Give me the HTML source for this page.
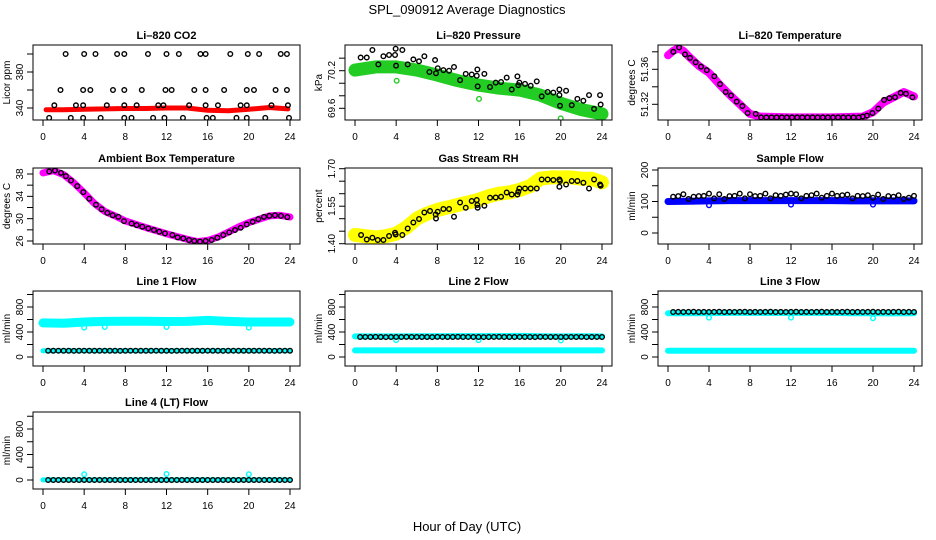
<!DOCTYPE html>
<html><head><meta charset="utf-8"><style>
html,body{margin:0;padding:0;background:#fff}
svg{display:block;font-family:"Liberation Sans",sans-serif}
</style></head><body>
<svg id="chart" width="936" height="540" viewBox="0 0 936 540" xmlns="http://www.w3.org/2000/svg">
<rect width="936" height="540" fill="#fff"/>
<text x="467" y="14" font-size="13" text-anchor="middle">SPL_090912  Average Diagnostics</text>
<text x="467" y="531" font-size="13" text-anchor="middle">Hour of Day (UTC)</text>
</svg>
<script>
// ---------- DATA ----------
const xTicks = [0,4,8,12,16,20,24];
// CO2
const co2Hours = [2.2,4.0,5.1,7.2,7.9,10.2,12.0,13.2,15.3,15.8,18.2,19.9,21.0,23.1,23.7,
 1.7,3.9,4.6,6.8,7.9,9.6,11.9,12.5,14.7,15.8,17.6,19.8,20.5,22.6,23.7,
 1.1,3.2,3.9,6.2,7.9,9.1,11.2,11.7,14.2,15.8,17.0,19.2,19.8,22.2,23.8,
 0.6,2.7,3.9,5.6,7.9,8.6,10.7,11.8,13.6,15.9,16.5,18.8,19.8,21.6,23.9];
const co2Vals = [400,400,400,400,400,400,400,400,400,400,400,400,400,400,400,
 360,360,360,360,360,360,360,360,360,360,360,360,360,360,360,
 343,343,343,343,343,343,343,343,343,343,343,343,343,343,343,
 329,329,329,329,329,329,329,329,329,329,329,329,329,329,329];
const co2BandHours = [0.3,2,4,6,8,10,12,14,16,18,20,22,23.8];
const co2BandVals = [338,338,338.5,339,339.5,339.5,340,340,337.5,337,338.5,340.5,339];
// Pressure
const presHours = [0.55,1.14,1.69,2.27,2.76,3.31,3.89,3.95,3.99,4.60,5.12,5.67,6.22,6.74,7.23,7.78,7.87,8.04,8.59,9.14,9.62,10.21,10.76,11.34,11.83,11.89,11.92,12.57,13.12,13.67,14.19,14.74,15.23,15.78,15.87,15.97,16.52,17.07,17.66,18.14,18.72,19.27,19.86,19.86,19.92,20.51,21.06,21.61,22.19,22.74,23.23,23.81,23.87];
const presVals = [70.41,70.41,70.53,70.30,70.43,70.45,70.45,70.55,70.28,70.53,70.30,70.38,70.35,70.43,70.18,70.37,70.16,70.24,70.21,70.20,70.26,70.05,70.15,70.14,70.12,70.22,69.95,70.15,69.94,70.01,70.02,70.09,69.90,70.11,69.97,70.01,69.99,69.96,70.03,69.79,69.86,69.85,69.90,69.81,69.64,69.88,69.65,69.75,69.72,69.81,69.59,69.81,69.66];
const presBandHours = [0,2,4,6,8,10,12,14,16,18,20,22,24];
const presBandVals = [70.21,70.26,70.26,70.21,70.13,70.04,69.97,69.92,69.89,69.81,69.68,69.58,69.51];
const presOutHours = [4.05,12.05,19.99];
const presOutVals = [70.04,69.75,69.44];
// Li-820 temperature
const tempHours = [0.52,1.08,1.66,2.15,2.70,3.22,3.78,4.52,5.08,5.63,6.15,6.70,7.25,7.77,8.56,9.08,9.6,10.1,10.6,11.1,11.6,12.1,12.6,13.1,13.6,14.1,14.6,15.1,15.6,16.1,16.6,17.1,17.6,18.1,18.6,19.0,19.4,19.94,20.52,21.08,21.6,22.15,22.7,23.22,23.84];
const tempVals = [51.380,51.385,51.377,51.373,51.368,51.363,51.359,51.352,51.343,51.334,51.330,51.323,51.318,51.310,51.309,51.305,51.305,51.305,51.305,51.305,51.305,51.305,51.305,51.305,51.305,51.305,51.305,51.305,51.305,51.305,51.305,51.305,51.305,51.305,51.305,51.306,51.307,51.310,51.315,51.325,51.327,51.328,51.333,51.332,51.328];
const tempBandHours = [0,0.5,1,1.5,2,3,4,5,6,7,8,9,12,16,19,20,21,22,23,24];
const tempBandVals = [51.376,51.381,51.384,51.381,51.375,51.364,51.356,51.343,51.331,51.320,51.309,51.306,51.305,51.305,51.306,51.311,51.322,51.328,51.334,51.329];
// Ambient box temperature
const ambHours = [0.61,1.16,1.75,2.23,2.72,3.33,3.92,4.50,5.15,5.70,6.25,6.77,7.32,7.87,8.61,9.10,9.65,10.23,10.78,11.30,11.85,12.57,13.08,13.63,14.19,14.70,15.25,15.80,16.39,16.94,17.52,18.10,18.66,19.21,19.79,20.37,20.92,21.47,21.99,22.54,23.12,23.74];
const ambVals = [38.44,38.62,38.21,37.62,36.84,35.83,34.76,33.57,32.50,31.69,31.03,30.62,30.33,29.56,29.14,28.85,28.55,28.26,27.96,27.66,27.36,27.07,26.65,26.47,26.18,26.00,25.89,26.00,26.18,26.59,27.07,27.54,27.96,28.38,28.97,29.44,29.92,30.33,30.50,30.62,30.50,30.27];
const ambBandHours = [0,1,2,3,4,5,6,7,8,10,12,14,15,16,17,18,19,20,21,22,23,24];
const ambBandVals = [38.2,38.6,37.9,36.4,34.6,32.7,31.3,30.5,29.6,28.4,27.3,26.3,25.9,26.1,26.7,27.6,28.5,29.3,29.9,30.5,30.6,30.3];
// Gas stream RH
const rhHours = [0.59,1.14,1.69,2.21,2.76,3.31,3.89,3.95,4.60,5.12,5.67,6.22,6.74,7.29,7.84,7.87,8.04,8.59,9.14,9.62,10.21,10.76,11.34,11.83,11.89,11.92,12.57,13.12,13.67,14.19,14.74,15.23,15.78,15.87,15.97,16.52,17.07,17.66,18.14,18.72,19.27,19.86,19.86,19.92,20.51,21.06,21.61,22.19,22.74,23.23,23.81,23.87];
const rhVals = [1.435,1.417,1.424,1.415,1.415,1.431,1.444,1.437,1.435,1.461,1.485,1.499,1.525,1.531,1.517,1.501,1.528,1.539,1.539,1.508,1.565,1.544,1.571,1.575,1.555,1.544,1.552,1.584,1.585,1.588,1.605,1.597,1.597,1.608,1.621,1.621,1.621,1.621,1.657,1.657,1.655,1.657,1.628,1.651,1.637,1.651,1.651,1.644,1.621,1.657,1.637,1.632];
const rhBandHours = [0,1,2,3,4,5,6,7,8,9,10,11,12,13,14,15,16,17,18,19,20,21,22,23,24];
const rhBandVals = [1.435,1.43,1.425,1.43,1.44,1.465,1.50,1.52,1.535,1.545,1.555,1.565,1.575,1.59,1.60,1.605,1.615,1.63,1.66,1.665,1.665,1.665,1.66,1.66,1.645];
// Flows
const flowHours = [0.5,1,1.5,2,2.5,3,3.5,4,4.5,5,5.5,6,6.5,7,7.5,8,8.5,9,9.5,10,10.5,11,11.5,12,12.5,13,13.5,14,14.5,15,15.5,16,16.5,17,17.5,18,18.5,19,19.5,20,20.5,21,21.5,22,22.5,23,23.5,24];
const sampleBlack = [115,117,123,108,115,117,118,125,110,123,108,117,118,125,110,123,117,118,125,110,120,118,122,125,123,110,118,120,125,112,118,125,118,120,122,110,118,117,120,112,122,108,117,115,120,108,112,118];
const sampleBandHours = [0,2,4,6,8,10,12,14,16,18,20,22,24];
const sampleBandVals = [100,101,102,103,103,103,103,103,103,102,102,102,102];
const sampleOutHours = [4,12,20];
const sampleOutVals = [88,90,90];
const line1Black = [100,100,101,100,100,99,100,101,100,100,100,101,100,100,99,100,101,100,100,100,100,101,100,100,99,100,101,100,100,100,100,101,100,100,99,100,101,100,100,100,100,101,100,100,99,100,101,100];
const line1BandHours = [0,2,4,6,8,10,12,14,16,18,20,22,24];
const line1BandVals = [545,540,560,570,572,572,568,570,585,570,560,560,560];
const line1LowVals = [100,100,100,100,100,100,100,100,100,100,100,100,100];
const line1OutHours = [4,6,12,20];
const line1OutVals = [470,480,480,470];
const line2Black = [320,321,320,322,320,319,320,321,320,322,320,321,320,320,319,322,321,320,320,322,320,321,320,320,319,320,321,322,320,320,320,321,320,320,319,322,321,320,320,320,320,321,320,322,319,320,321,320];
const line2BandVals = [330,330,330,332,332,335,335,335,338,332,330,332,330];
const line2LowVals = [105,105,105,105,105,105,105,105,105,105,105,105,105];
const line2OutHours = [4,12,20];
const line2OutVals = [270,270,265];
const line3Black = [720,722,721,723,724,720,722,721,723,724,720,722,721,723,724,720,722,721,723,724,720,722,721,723,724,720,722,721,723,724,720,722,721,723,724,720,722,721,723,724,720,722,721,723,724,720,722,721];
const line3BandVals = [700,700,702,705,705,705,705,705,705,700,700,698,700];
const line3LowVals = [100,100,100,100,100,100,100,100,100,100,100,100,100];
const line3OutHours = [4,12,20];
const line3OutVals = [630,630,620];
const line4Black = [0,0,0,0,0,0,0,0,0,0,0,0,0,0,0,0,0,0,0,0,0,0,0,0,0,0,0,0,0,0,0,0,0,0,0,0,0,0,0,0,0,0,0,0,0,0,0,0];
const line4BandVals = [2,2,2,2,2,2,2,2,2,2,2,2,2];
const line4OutHours = [4,12,20];
const line4OutVals = [90,95,90];

// ---------- LAYOUT ----------
const NS = "http://www.w3.org/2000/svg";
const svg = document.getElementById('chart');
const cols = [{l:33,r:300,h0:43,h24:290},{l:345,r:612,h0:355,h24:602},{l:658,r:922,h0:668,h24:914}];
const rows = [{t:45,b:120},{t:168,b:244},{t:291,b:366},{t:412,b:489}];

function el(tag, attrs, parent){
  const e = document.createElementNS(NS, tag);
  for (const k in attrs) e.setAttribute(k, attrs[k]);
  (parent||svg).appendChild(e);
  return e;
}

function panel(o){
  const c = cols[o.col], r = rows[o.row];
  const g = el('g', {});
  
  
  const sx = h => c.h0 + (h/24)*(c.h24-c.h0);
  const sy = v => o.pA + (v-o.vA)*(o.pB-o.pA)/(o.vB-o.vA);
  const cx = (c.l+c.r)/2;
  const t = el('text', {x:cx, y:r.t-6, 'font-size':11, 'font-weight':'bold', 'text-anchor':'middle'}, g);
  t.textContent = o.title;
  
  
  // x axis
  const xa = el('g', {stroke:'#000','stroke-width':1}, g);
  
  
  xTicks.forEach(h=>{
    el('line',{x1:sx(h),x2:sx(h),y1:r.b,y2:r.b+6},xa);
    const tl = el('text',{x:sx(h),y:r.b+20,'font-size':10,'text-anchor':'middle',stroke:'none'},xa);
    tl.textContent = h;
  });
  el('line',{x1:sx(0),x2:sx(24),y1:r.b,y2:r.b},xa);
  // y axis
  const ya = el('g', {stroke:'#000','stroke-width':1}, g);
  
  
  o.yTicks.forEach(v=>{ el('line',{x1:c.l-6,x2:c.l,y1:sy(v),y2:sy(v)},ya); });
  el('line',{x1:c.l,x2:c.l,y1:sy(o.yTicks[0]),y2:sy(o.yTicks[o.yTicks.length-1])},ya);
  o.yLabels.forEach(v=>{
    const yy = sy(parseFloat(v));
    const tl = el('text',{x:c.l-10,y:yy,'font-size':10,'text-anchor':'middle',stroke:'none',transform:`rotate(-90 ${c.l-10} ${yy})`},ya);
    tl.textContent = v;
  });
  const yt = el('text',{x:c.l-23,y:(r.t+r.b)/2,'font-size':10,'text-anchor':'middle',transform:`rotate(-90 ${c.l-23} ${(r.t+r.b)/2})`},g);
  yt.textContent = o.ylab;
  
  
  // clip
  const cid = 'clip'+o.name;
  const cp = el('clipPath',{id:cid},g);
  el('rect',{x:c.l,y:r.t,width:c.r-c.l,height:r.b-r.t},cp);
  const plot = el('g',{'clip-path':`url(#${cid})`},g);
  o.series.forEach(s=>{
    const sg = el('g',{},plot);
    
    
    if (s.band){
      const d = s.x.map((h,i)=>(i?'L':'M')+sx(h).toFixed(1)+','+sy(s.y[i]).toFixed(1)).join('');
      el('path',{d:d,fill:'none',stroke:s.color,'stroke-width':s.band,'stroke-linejoin':'round','stroke-linecap':'round'},sg);
    } else {
      s.x.forEach((h,i)=>{
        const m = el('circle',{cx:sx(h),cy:sy(s.y[i]),r:2.3,fill:'none',stroke:s.color,'stroke-width':1.4},sg);
        
        
      });
    }
  });
  const box = el('rect',{x:c.l,y:r.t,width:c.r-c.l,height:r.b-r.t,fill:'none',stroke:'#000','stroke-width':1},g);
  
  
}

const flowTicks=[0,200,400,600,800,1000], flowLabels=['0','400','800'];
const BH = [0,2,4,6,8,10,12,14,16,18,20,22,24];

panel({name:'co2-panel',col:0,row:0,title:'Li\u2013820 CO2',ylab:'Licor ppm',vA:340,pA:108,vB:380,pB:72,
 yTicks:[340,360,380,400],yLabels:['340','380'],
 series:[{name:'co2-band',band:5,color:'#ff0000',x:co2BandHours,y:co2BandVals},
         {name:'co2-hourly',color:'#000',x:co2Hours,y:co2Vals}]});
panel({name:'pressure-panel',col:1,row:0,title:'Li\u2013820 Pressure',ylab:'kPa',vA:70.2,pA:70.7,vB:69.6,pB:108.3,
 yTicks:[69.6,69.8,70.0,70.2,70.4],yLabels:['69.6','70.2'],
 series:[{name:'pressure-band',band:13,color:'#22cc22',x:presBandHours,y:presBandVals},
         {name:'pressure-outliers',color:'#22cc22',x:presOutHours,y:presOutVals},
         {name:'pressure-hourly',color:'#000',x:presHours,y:presVals}]});
panel({name:'li820-temp-panel',col:2,row:0,title:'Li\u2013820 Temperature',ylab:'degrees C',vA:51.32,pA:104.3,vB:51.36,pB:69.3,
 yTicks:[51.32,51.34,51.36,51.38],yLabels:['51.32','51.36'],
 series:[{name:'temp-band',band:8,color:'#ff00ff',x:tempBandHours,y:tempBandVals},
         {name:'temp-hourly',color:'#000',x:tempHours,y:tempVals}]});
panel({name:'ambient-panel',col:0,row:1,title:'Ambient Box Temperature',ylab:'degrees C',vA:26,pA:241,vB:38,pB:174,
 yTicks:[26,28,30,32,34,36,38],yLabels:['26','30','34','38'],
 series:[{name:'ambient-band',band:7,color:'#ff00ff',x:ambBandHours,y:ambBandVals},
         {name:'ambient-hourly',color:'#000',x:ambHours,y:ambVals}]});
panel({name:'rh-panel',col:1,row:1,title:'Gas Stream RH',ylab:'percent',vA:1.40,pA:243.7,vB:1.70,pB:168.7,
 yTicks:[1.40,1.45,1.50,1.55,1.60,1.65,1.70],yLabels:['1.40','1.55','1.70'],
 series:[{name:'rh-band',band:14,color:'#ffff00',x:rhBandHours,y:rhBandVals},
         {name:'rh-hourly',color:'#000',x:rhHours,y:rhVals}]});
panel({name:'sample-flow-panel',col:2,row:1,title:'Sample Flow',ylab:'ml/min',vA:0,pA:233,vB:200,pB:170,
 yTicks:[0,50,100,150,200],yLabels:['0','100','200'],
 series:[{name:'sample-band',band:7,color:'#0000ff',x:sampleBandHours,y:sampleBandVals},
         {name:'sample-outliers',color:'#0000ff',x:sampleOutHours,y:sampleOutVals},
         {name:'sample-hourly',color:'#000',x:flowHours,y:sampleBlack}]});
panel({name:'line1-panel',col:0,row:2,title:'Line 1 Flow',ylab:'ml/min',vA:0,pA:357,vB:800,pB:307,
 yTicks:flowTicks,yLabels:flowLabels,
 series:[{name:'line1-band',band:9,color:'#00ffff',x:line1BandHours,y:line1BandVals},
         {name:'line1-low-band',band:5,color:'#00ffff',x:BH,y:line1LowVals},
         {name:'line1-outliers',color:'#00ffff',x:line1OutHours,y:line1OutVals},
         {name:'line1-hourly',color:'#000',x:flowHours,y:line1Black}]});
panel({name:'line2-panel',col:1,row:2,title:'Line 2 Flow',ylab:'ml/min',vA:0,pA:357,vB:800,pB:307,
 yTicks:flowTicks,yLabels:flowLabels,
 series:[{name:'line2-band',band:6,color:'#00ffff',x:BH,y:line2BandVals},
         {name:'line2-low-band',band:6,color:'#00ffff',x:BH,y:line2LowVals},
         {name:'line2-outliers',color:'#00ffff',x:line2OutHours,y:line2OutVals},
         {name:'line2-hourly',color:'#000',x:flowHours,y:line2Black}]});
panel({name:'line3-panel',col:2,row:2,title:'Line 3 Flow',ylab:'ml/min',vA:0,pA:357,vB:800,pB:307,
 yTicks:flowTicks,yLabels:flowLabels,
 series:[{name:'line3-band',band:6,color:'#00ffff',x:BH,y:line3BandVals},
         {name:'line3-low-band',band:6,color:'#00ffff',x:BH,y:line3LowVals},
         {name:'line3-outliers',color:'#00ffff',x:line3OutHours,y:line3OutVals},
         {name:'line3-hourly',color:'#000',x:flowHours,y:line3Black}]});
panel({name:'line4-panel',col:0,row:3,title:'Line 4 (LT) Flow',ylab:'ml/min',vA:0,pA:480,vB:800,pB:429,
 yTicks:flowTicks,yLabels:flowLabels,
 series:[{name:'line4-band',band:5,color:'#00ffff',x:BH,y:line4BandVals},
         {name:'line4-outliers',color:'#00ffff',x:line4OutHours,y:line4OutVals},
         {name:'line4-hourly',color:'#000',x:flowHours,y:line4Black}]});
</script>
</body></html>
